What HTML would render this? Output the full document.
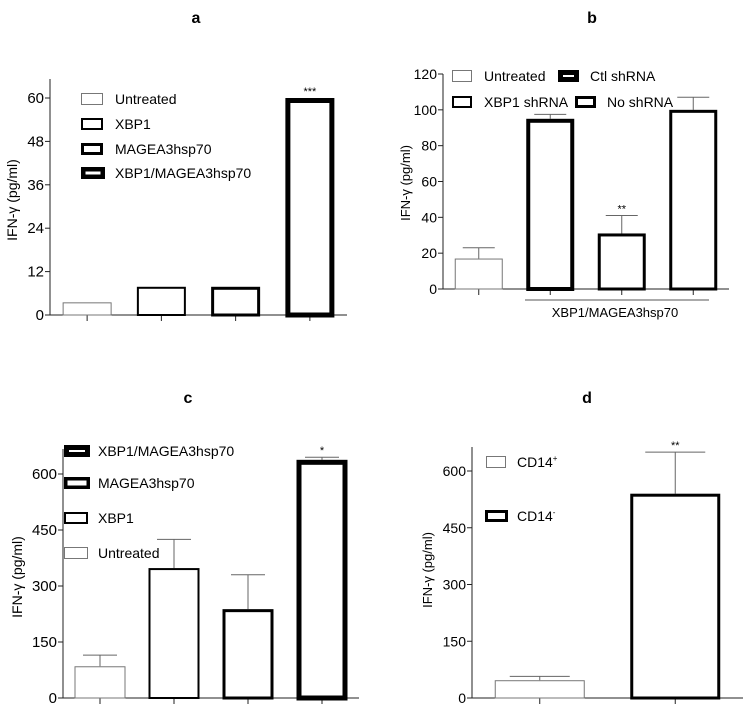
<!DOCTYPE html>
<html><head><meta charset="utf-8"><style>
body{margin:0;background:#fff;}
svg{display:block;font-family:"Liberation Sans Narrow","Liberation Sans",sans-serif;}
.t{font-family:"Liberation Sans",sans-serif;font-weight:bold;font-size:16px;}
</style></head><body>
<svg id="fig" width="751" height="713" viewBox="0 0 751 713"></svg>
<script>
// Panel a
const aCats=["Untreated","XBP1","MAGEA3hsp70","XBP1/MAGEA3hsp70"];
const aVals=[3.5,7.8,7.8,60];
const aErr=[null,null,null,null];
const aTicks=[0,12,24,36,48,60];
// Panel b
const bCats=["Untreated","Ctl shRNA","XBP1 shRNA","No shRNA"];
const bVals=[17,95,31,100];
const bErr=[23,97.5,41,107];
const bTicks=[0,20,40,60,80,100,120];
// Panel c
const cCats=["Untreated","XBP1","MAGEA3hsp70","XBP1/MAGEA3hsp70"];
const cVals=[85,348,238,638];
const cErr=[115,425,330,645];
const cTicks=[0,150,300,450,600];
// Panel d
const dCats=["CD14+","CD14-"];
const dVals=[47,540];
const dErr=[57,650];
const dTicks=[0,150,300,450,600];

const NS="http://www.w3.org/2000/svg";
const svg=document.getElementById('fig');
function el(tag,attrs,parent,text){const e=document.createElementNS(NS,tag);for(const k in attrs)e.setAttribute(k,attrs[k]);if(text!==undefined)e.textContent=text;(parent||svg).appendChild(e);return e;}

function panel(cfg){
  const g=el('g',{});
  
  
  const y=v=>cfg.y0-(v-0)/cfg.vmax*(cfg.y0-cfg.yTop);
  const t=el('text',{x:cfg.titleX,y:cfg.titleY,'text-anchor':'middle',class:'t'},g,cfg.id);
  
  
  // axes
  const ya=el('line',{x1:cfg.ax,y1:cfg.axTop,x2:cfg.ax,y2:cfg.y0,stroke:'#222','stroke-width':1},g);
  
  
  const xa=el('line',{x1:cfg.ax,y1:cfg.y0,x2:cfg.axRight,y2:cfg.y0,stroke:'#222','stroke-width':1},g);
  
  
  cfg.ticks.forEach(v=>{
    el('line',{x1:cfg.ax-5,y1:y(v),x2:cfg.ax,y2:y(v),stroke:'#222'},g);
    const tl=el('text',{x:cfg.ax-6,y:y(v)+5,'text-anchor':'end','font-size':cfg.fs},g,v);
    
    
  });
  const yt=el('text',{x:cfg.ytX,y:cfg.ytY,'text-anchor':'middle','font-size':cfg.ytFs,'font-family':'Liberation Sans, sans-serif',transform:`rotate(-90 ${cfg.ytX} ${cfg.ytY})`},g,'IFN-γ (pg/ml)');
  
  
  const n=cfg.vals.length;
  const step=(cfg.axRight-cfg.ax)/n;
  cfg.vals.forEach((v,i)=>{
    const cx=cfg.ax+step*(i+0.5)+cfg.shift;
    const sw=cfg.sw[i];
    el('line',{x1:cx,y1:cfg.y0,x2:cx,y2:cfg.y0+6,stroke:'#222'},g);
    if(cfg.err[i]!=null){
      const e=el('path',{d:`M${cx} ${y(v)} V${y(cfg.err[i])} M${cx-cfg.bw/3} ${y(cfg.err[i])} H${cx+cfg.bw/3}`,stroke:'#666','stroke-width':1,fill:'none'},g);
      
      
    }
    const r=el('rect',{x:cx-cfg.bw/2+sw/2,y:y(v)+sw/2,width:cfg.bw-sw,height:cfg.y0-y(v)-sw/2,fill:'#fff',stroke:sw<1.5?'#777':'#000','stroke-width':sw},g);
    
    
    if(cfg.stars[i]){
      const top=cfg.err[i]!=null?y(cfg.err[i]):y(v);
      const s=el('text',{x:cx,y:top-3,'text-anchor':'middle','font-size':11},g,cfg.stars[i]);
      
      
    }
  });
  cfg.legend.forEach((L,i)=>{
    const lg=el('g',{},g);
    
    
    const sw=L.sw;
    el('rect',{x:L.x+sw/2,y:L.y-6+sw/2,width:L.w-sw,height:12-sw,fill:'#fff',stroke:sw<1.5?'#777':'#000','stroke-width':sw},lg);
    const tx=el('text',{x:L.tx,y:L.y+5,'font-size':cfg.lfs},lg);
    tx.textContent=L.label;
    if(L.sup){el('tspan',{dy:-6,'font-size':8},tx,L.sup);}
  });
}

panel({id:'a',vals:aVals,err:aErr,cats:aCats,ticks:aTicks,vmax:60,y0:315,yTop:98,axTop:79,ax:50,axRight:347,shift:0,bw:49,
  sw:[1,2,3,5],stars:[null,null,null,'***'],titleX:196,titleY:23,fs:15,ytX:17,ytY:200,ytFs:14,lfs:14,
  legend:[{x:81,y:99,w:22,sw:1,tx:115,label:'Untreated'},{x:81,y:124,w:22,sw:2,tx:115,label:'XBP1'},{x:81,y:149,w:22,sw:3,tx:115,label:'MAGEA3hsp70'},{x:81,y:173,w:24,sw:4.5,tx:115,label:'XBP1/MAGEA3hsp70'}]});
panel({id:'b',vals:bVals,err:bErr,cats:bCats,ticks:bTicks,vmax:120,y0:289,yTop:74,axTop:74,ax:443,axRight:729,shift:0,bw:48,
  sw:[1,4,3,3],stars:[null,null,'**',null],titleX:592,titleY:23,fs:14,ytX:410,ytY:183,ytFs:13,lfs:14,
  legend:[{x:452,y:76,w:20,sw:1,tx:484,label:'Untreated'},{x:558,y:76,w:21,sw:5,tx:590,label:'Ctl shRNA'},{x:452,y:102,w:20,sw:2,tx:484,label:'XBP1 shRNA'},{x:575,y:102,w:21,sw:3,tx:607,label:'No shRNA'}]});
const gl=el('line',{x1:525,y1:300,x2:709,y2:300,stroke:'#777','stroke-width':1.2});


const glt=el('text',{x:615,y:317,'text-anchor':'middle','font-size':13,'font-family':'Liberation Sans, sans-serif'},svg,'XBP1/MAGEA3hsp70');


panel({id:'c',vals:cVals,err:cErr,cats:cCats,ticks:cTicks,vmax:600,y0:698,yTop:474,axTop:449,ax:63,axRight:359,shift:0,bw:51,
  sw:[1,2,3,5],stars:[null,null,null,'*'],titleX:188,titleY:403,fs:15,ytX:22,ytY:577,ytFs:14,lfs:14,
  legend:[{x:64,y:451,w:26,sw:5,tx:98,label:'XBP1/MAGEA3hsp70'},{x:64,y:483,w:26,sw:3.5,tx:98,label:'MAGEA3hsp70'},{x:64,y:518,w:24,sw:2,tx:98,label:'XBP1'},{x:64,y:553,w:24,sw:1,tx:98,label:'Untreated'}]});
panel({id:'d',vals:dVals,err:dErr,cats:dCats,ticks:dTicks,vmax:600,y0:698,yTop:471,axTop:447,ax:472,axRight:743,shift:0,bw:90,
  sw:[1,3],stars:[null,'**'],titleX:587,titleY:403,fs:14,ytX:432,ytY:570,ytFs:13,lfs:14,
  legend:[{x:486,y:462,w:20,sw:1,tx:517,label:'CD14',sup:'+'},{x:485,y:516,w:23,sw:3,tx:517,label:'CD14',sup:'-'}]});
</script>
</body></html>
